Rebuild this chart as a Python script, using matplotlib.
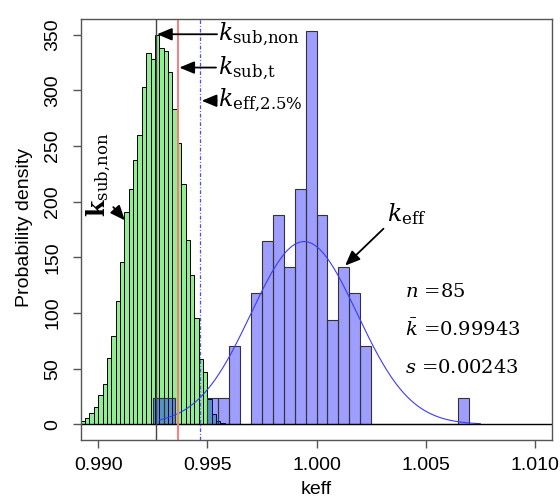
import matplotlib
matplotlib.use("Agg")
import matplotlib.pyplot as plt
import numpy as np

plt.rcParams['font.family'] = ['Liberation Sans', 'DejaVu Sans']
plt.rcParams['mathtext.fontset'] = 'dejavuserif'

# subcritical-limit distribution (density, bin width 0.0002, first edge 0.9892)
sub_start = 0.9892
sub_width = 0.0002
sub_density = [3, 6, 10.5, 16, 26, 36, 60, 79.5, 111, 145.6,
               190.6, 211.7, 237.2, 259.7, 303.3, 333.3, 328, 349.8, 337.8, 335.4,
               316.8, 282.9, 252.9, 216.2, 165.8, 134.5, 95.5, 58.5, 47.4, 22.5,
               9, 3, 1.5]

# keff benchmark counts (bin width 0.0005, first edge 0.9925)
eff_start = 0.9925
eff_width = 0.0005
eff_counts = [1, 1, 0, 0, 0, 1, 1, 3, 0, 5, 7, 8, 6, 9, 15, 8, 4, 6, 5, 3,
              0, 0, 0, 0, 0, 0, 0, 0, 1]

n_eff = 85
k_mean = 0.99943
k_sd = 0.00243
k_min, k_max = 0.9928, 1.0075

k_sub_non = 0.99264
k_sub_t = 0.99366
k_eff_25 = 0.99468

fig = plt.figure(figsize=(5.6, 5.0), dpi=100)
ax = fig.add_axes([0.1441, 0.12, 0.8422, 0.842])

sub_left = sub_start + sub_width * np.arange(len(sub_density))
ax.bar(sub_left, sub_density, width=sub_width, align='edge',
       color='#90EE90', edgecolor='black', linewidth=0.7)

eff_left = eff_start + eff_width * np.arange(len(eff_counts))
eff_density = np.array(eff_counts) / (n_eff * eff_width)
ax.bar(eff_left, eff_density, width=eff_width, align='edge',
       color=(0, 0, 1, 0.38), edgecolor='#333333', linewidth=0.8)

# fitted normal curve
xs = np.linspace(k_min, k_max, 300)
ys = np.exp(-0.5 * ((xs - k_mean) / k_sd) ** 2) / (k_sd * np.sqrt(2 * np.pi))
ax.plot(xs, ys, color='#3b3bff', lw=0.8)

ax.axhline(0, color='black', lw=1)
ax.axvline(k_sub_non, color='#444444', lw=1)
ax.axvline(k_sub_t, color='#ff7b7b', lw=1.4)
ax.axvline(k_eff_25, color='#4d4dff', lw=0.9, linestyle=(0, (3, 1.5, 0.8, 1.5)))

ax.set_xlim(0.9892, 1.0108)
ax.set_ylim(-14, 364)
ax.set_xticks([0.990, 0.995, 1.000, 1.005, 1.010])
ax.set_xticklabels(['0.990', '0.995', '1.000', '1.005', '1.010'])
ax.set_yticks(range(0, 351, 50))
for s in ax.spines.values():
    s.set_color('#555555')
    s.set_linewidth(1)
ax.tick_params(axis='both', length=6, width=1, color='#555555', labelsize=14)
ax.tick_params(axis='x', pad=6)
ax.tick_params(axis='y', pad=8)
for lab in ax.get_yticklabels():
    lab.set_rotation(90)
    lab.set_va('center')

ax.set_ylabel('Probability density', fontsize=14, va='center')
ax.yaxis.set_label_coords(-0.12, 0.505)
ax.set_xlabel('keff', fontsize=14)
ax.xaxis.set_label_coords(0.5, -0.098)

arrow = dict(arrowstyle='-|>,head_length=0.6,head_width=0.25', color='black',
             lw=1.3, shrinkA=0, shrinkB=0, mutation_scale=15)
serif = dict(family='DejaVu Serif', fontsize=17)

ax.annotate('', xy=(0.992695, 350.3), xytext=(0.995445, 350.3), arrowprops=arrow)
ax.text(0.99549, 345.3, r'$k_{\mathrm{sub{,}non}}$', va='baseline', **serif)
ax.annotate('', xy=(0.993717, 320.4), xytext=(0.995399, 320.4), arrowprops=arrow)
ax.text(0.99549, 314.7, r'$k_{\mathrm{sub{,}t}}$', va='baseline', **serif)
ax.annotate('', xy=(0.994743, 290.6), xytext=(0.995422, 290.6), arrowprops=arrow)
ax.text(0.99549, 285.9, r'$k_{\mathrm{eff{,}2.5\%}}$', va='baseline', **serif)

ax.annotate('', xy=(1.001311, 142.6), xytext=(1.003066, 175.7), arrowprops=arrow)
ax.text(1.003222, 182.5, r'$k_{\mathrm{eff}}$', va='baseline', **serif)

ax.annotate('', xy=(0.991228, 183.2), xytext=(0.990692, 195.1), arrowprops=arrow)
ax.text(0.990046, 186.1, r'$\mathbf{k}_{\mathrm{sub{,}non}}$', rotation=90,
        ha='center', va='bottom', **serif)

stats = dict(family='DejaVu Serif', fontsize=14, va='baseline')
ax.text(1.00406, 114.1, r'$n$ =%d' % n_eff, **stats)
ax.text(1.00406, 79.5, r'$\bar{k}$ =%.5f' % k_mean, **stats)
ax.text(1.00406, 46.5, r'$s$ =%.5f' % k_sd, **stats)

fig.savefig('out.png', dpi=100)
